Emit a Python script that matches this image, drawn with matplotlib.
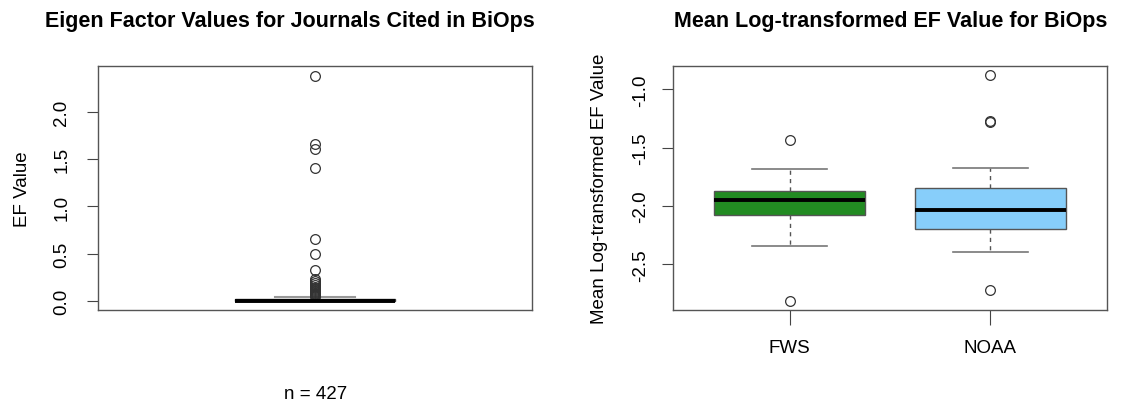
import matplotlib.pyplot as plt

plt.rcParams['font.family'] = ['Liberation Sans', 'DejaVu Sans']

# left panel: EF values, all journals (n = 427)
ef_box = [0.003, 0.008, 0.02]          # q1, median, q3
ef_whis = [0.0003, 0.045]
ef_outliers = [2.38, 1.66, 1.61, 1.41, 0.66, 0.50, 0.33, 0.235, 0.21, 0.19,
               0.17, 0.15, 0.14, 0.13, 0.12, 0.11, 0.10, 0.09, 0.08, 0.075,
               0.07, 0.065, 0.06, 0.055]

# right panel: mean log-transformed EF by agency
agencies = ['FWS', 'NOAA']
q1 = [-2.078, -2.199]
med = [-1.949, -2.033]
q3 = [-1.872, -1.849]
whis_lo = [-2.348, -2.394]
whis_hi = [-1.68, -1.674]
outliers = [[-1.43, -2.82], [-0.873, -1.27, -1.28, -2.72]]
colors = ['#228B22', '#87CEFA']

W, H = 1126, 402
fig = plt.figure(figsize=(W / 100, H / 100), dpi=100)

def ax_at(x0, y0, x1, y1):
    return fig.add_axes([x0 / W, 1 - y1 / H, (x1 - x0) / W, (y1 - y0) / H])

ax1 = ax_at(98, 67, 532, 311)
ax2 = ax_at(673, 67, 1107, 311)

frame = '#555555'
flier = dict(marker='o', markerfacecolor='none', markeredgecolor='#333333',
             markersize=7, markeredgewidth=0.9)

stats1 = [dict(q1=ef_box[0], med=ef_box[1], q3=ef_box[2],
               whislo=ef_whis[0], whishi=ef_whis[1], fliers=ef_outliers)]
ax1.bxp(stats1, positions=[1], widths=0.4, showcaps=True, patch_artist=True,
        boxprops=dict(facecolor='white', edgecolor='#333333', linewidth=1),
        medianprops=dict(color='black', linewidth=2.8),
        whiskerprops=dict(color='#999999', linestyle='--', linewidth=1),
        capprops=dict(color='#999999', linewidth=1.5), capwidths=0.2,
        flierprops=flier)
ax1.set_xlim(0.46, 1.54)
ax1.set_ylim(-0.092, 2.482)
ax1.set_yticks([0.0, 0.5, 1.0, 1.5, 2.0])
ax1.set_yticklabels(['0.0', '0.5', '1.0', '1.5', '2.0'], rotation=90, va='center')
ax1.set_xticks([])
ax1.set_ylabel('EF Value', fontsize=13.5)
ax1.yaxis.set_label_coords(-0.154, 0.5)

stats2 = [dict(q1=q1[i], med=med[i], q3=q3[i], whislo=whis_lo[i],
               whishi=whis_hi[i], fliers=outliers[i]) for i in range(2)]
bp = ax2.bxp(stats2, positions=[1, 2], widths=0.75, patch_artist=True,
             boxprops=dict(edgecolor='#555555', linewidth=1),
             medianprops=dict(color='black', linewidth=2.8),
             whiskerprops=dict(color='#555555', linestyle=(0, (3, 3)), linewidth=1),
             capprops=dict(color='#777777', linewidth=1.2), capwidths=0.375,
             flierprops=flier)
for patch, c in zip(bp['boxes'], colors):
    patch.set_facecolor(c)
ax2.set_xlim(0.42, 2.58)
ax2.set_ylim(-2.893, -0.799)
ax2.set_yticks([-2.5, -2.0, -1.5, -1.0])
ax2.set_yticklabels(['-2.5', '-2.0', '-1.5', '-1.0'], rotation=90, va='center')
ax2.set_xticks([1, 2])
ax2.set_xticklabels(agencies, fontsize=13.5)
ax2.set_ylabel('Mean Log-transformed EF Value', fontsize=13.5)
ax2.yaxis.set_label_coords(-0.15, 0.5)

for ax, pad in ((ax1, 12), (ax2, 9)):
    for s in ax.spines.values():
        s.set_color(frame)
        s.set_linewidth(1)
    ax.tick_params(axis='y', labelsize=13.5, length=8, color='#444444', pad=pad)
    ax.tick_params(axis='x', length=11, color='#444444', pad=10)

fig.text(316 / W, 1 - 395 / H, 'n = 427', ha='center', va='center', fontsize=13.5)
fig.text(290 / W, 1 - 22 / H, 'Eigen Factor Values for Journals Cited in BiOps',
         ha='center', va='center', fontsize=15.5, fontweight='bold')
fig.text(891 / W, 1 - 22 / H, 'Mean Log-transformed EF Value for BiOps',
         ha='center', va='center', fontsize=15.5, fontweight='bold')

fig.savefig('out.png', dpi=100, facecolor='white')
